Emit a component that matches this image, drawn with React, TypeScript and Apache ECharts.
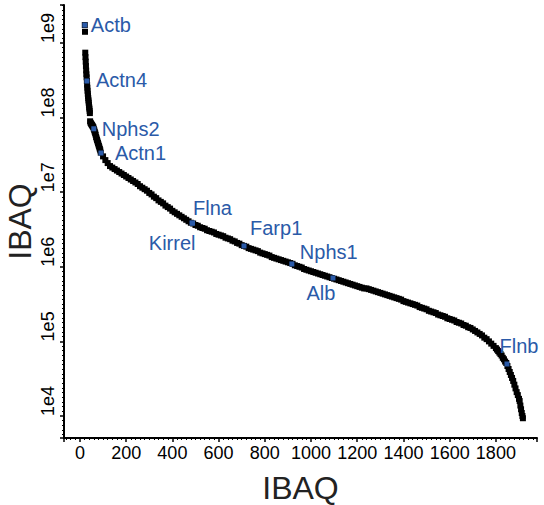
import React, { useEffect, useRef } from "react";
import * as echarts from "echarts";

// ---- Data (log10 of IBAQ) ----
const headRanks = [
  21, 22, 23, 24, 25, 26, 27, 28, 29, 30, 31, 32, 33, 34, 35, 36, 37, 38, 39, 40, 41, 42, 43,
  44, 46, 48, 50, 52, 54, 56, 58, 60, 62, 64, 66, 68, 70, 72, 74, 76, 78, 80, 82, 84, 86, 88, 90,
];
const headLog = [
  9.24, 9.15, 8.87, 8.81, 8.75, 8.69, 8.63, 8.58, 8.54, 8.49, 8.44, 8.4, 8.36, 8.32, 8.29, 8.26, 8.23, 8.2, 8.17, 8.14, 8.12, 8.09, 8.06,
  7.95, 7.93, 7.92, 7.91, 7.9, 7.89, 7.88, 7.87, 7.85, 7.83, 7.81, 7.79, 7.77, 7.74, 7.72, 7.7, 7.68, 7.66, 7.64, 7.62, 7.6, 7.58, 7.56, 7.53,
];

// ranks 100, 110, ..., 1800
const BODY_START = 100;
const BODY_STEP = 10;
const bodyLog = [
  7.48, 7.43, 7.39, 7.35, 7.33, 7.31, 7.29, 7.27, 7.25, 7.23,
  7.21, 7.19, 7.17, 7.15, 7.13, 7.11, 7.08, 7.06, 7.04, 7.02,
  6.99, 6.97, 6.94, 6.92, 6.89, 6.87, 6.85, 6.82, 6.8, 6.78,
  6.75, 6.73, 6.71, 6.69, 6.67, 6.65, 6.63, 6.61, 6.59, 6.58,
  6.56, 6.55, 6.53, 6.52, 6.51, 6.49, 6.48, 6.47, 6.46, 6.44,
  6.43, 6.42, 6.41, 6.39, 6.38, 6.37, 6.35, 6.34, 6.32, 6.31,
  6.29, 6.28, 6.27, 6.25, 6.24, 6.23, 6.22, 6.21, 6.19, 6.18,
  6.17, 6.16, 6.15, 6.13, 6.12, 6.11, 6.1, 6.09, 6.08, 6.07,
  6.06, 6.05, 6.04, 6.02, 6.01, 6.0, 5.99, 5.97, 5.96, 5.95,
  5.94, 5.93, 5.92, 5.91, 5.9, 5.89, 5.88, 5.87, 5.86, 5.85,
  5.84, 5.83, 5.82, 5.81, 5.8, 5.79, 5.78, 5.77, 5.76, 5.75,
  5.74, 5.73, 5.72, 5.71, 5.71, 5.7, 5.69, 5.68, 5.67, 5.66,
  5.65, 5.64, 5.63, 5.62, 5.61, 5.6, 5.59, 5.58, 5.57, 5.56,
  5.54, 5.53, 5.52, 5.51, 5.5, 5.49, 5.48, 5.46, 5.45, 5.44,
  5.43, 5.41, 5.4, 5.39, 5.38, 5.36, 5.35, 5.34, 5.33, 5.31,
  5.3, 5.29, 5.28, 5.26, 5.25, 5.24, 5.22, 5.21, 5.19, 5.18,
  5.16, 5.14, 5.12, 5.1, 5.08, 5.05, 5.03, 5.0, 4.97, 4.94,
  4.91,
];

const tailRanks = [
  1805, 1810, 1815, 1820, 1825, 1830, 1835, 1840, 1845, 1850, 1855, 1860, 1865, 1870, 1875,
  1880, 1885, 1890, 1895, 1900, 1903, 1906, 1909, 1912, 1915, 1917,
];
const tailLog = [
  4.89, 4.87, 4.85, 4.83, 4.81, 4.78, 4.76, 4.73, 4.71, 4.67, 4.63, 4.59, 4.55, 4.51, 4.47,
  4.42, 4.37, 4.32, 4.28, 4.23, 4.2, 4.14, 4.09, 4.04, 4.0, 3.97,
];

const proteinNames = ["Actb", "Actn4", "Nphs2", "Actn1", "Flna", "Kirrel", "Farp1", "Nphs1", "Alb", "Flnb"];
const proteinRanks = [21, 30, 60, 91, 485, 487, 710, 917, 1095, 1848];
const proteinLog = [9.24, 8.49, 7.85, 7.525, 6.587, 6.585, 6.279, 6.038, 5.85, 4.697];

const xTickLabels = ["0", "200", "400", "600", "800", "1000", "1200", "1400", "1600", "1800"];
const yTickLabels = ["1e4", "1e5", "1e6", "1e7", "1e8", "1e9"];

// ---- Styling (kept apart from data) ----
const FONT = "'Liberation Sans', Arial, Helvetica, sans-serif";
const BLUE = "#2a5aa8";
const labelPlacement: { align: string; offset: [number, number] }[] = [
  { align: "left", offset: [6, 0] },
  { align: "left", offset: [9, -1] },
  { align: "left", offset: [8, 0] },
  { align: "left", offset: [14, 0] },
  { align: "left", offset: [1, -15] },
  { align: "right", offset: [3, 20] },
  { align: "left", offset: [6, -18] },
  { align: "left", offset: [8, -12] },
  { align: "center", offset: [-12, 15] },
  { align: "center", offset: [12, -18] },
];

function buildCurve(): [number, number][] {
  const pts: [number, number][] = [];
  headRanks.forEach((r, i) => pts.push([r, headLog[i]]));
  bodyLog.forEach((v, i) => pts.push([BODY_START + i * BODY_STEP, v]));
  tailRanks.forEach((r, i) => pts.push([r, tailLog[i]]));
  return pts;
}

export default function App() {
  const ref = useRef<HTMLDivElement>(null);
  useEffect(() => {
    if (!ref.current) return;
    const chart = echarts.init(ref.current, null, { renderer: "svg" });
    const curve = buildCurve();
    const proteins = proteinNames.map((n, i) => ({
      name: n,
      value: [proteinRanks[i], proteinLog[i]],
      label: {
        show: true,
        position: "inside",
        align: labelPlacement[i].align,
        verticalAlign: "middle",
        offset: labelPlacement[i].offset,
      },
    }));
    chart.setOption({
      animation: false,
      backgroundColor: "#fff",
      grid: { left: 64, right: 7, top: 5, bottom: 67, containLabel: false, outerBoundsMode: "none" },
      xAxis: {
        type: "value",
        min: -69,
        max: 1978,
        splitNumber: 10,
        axisLine: { show: true, onZero: false, lineStyle: { color: "#000", width: 2 } },
        axisTick: { show: true, length: 4, lineStyle: { color: "#000", width: 1.5 } },
        minorTick: { show: true, splitNumber: 10, length: 2, lineStyle: { color: "#000", width: 1 } },
        splitLine: { show: false },
        axisLabel: {
          fontSize: 18,
          color: "#000",
          margin: 6,
          fontFamily: FONT,
          formatter: (v: number) => {
            const idx = Math.round(v / 200);
            if (Math.abs(v - idx * 200) > 1e-6) return "";
            return xTickLabels[idx] ?? "";
          },
        },
        name: "IBAQ",
        nameLocation: "middle",
        nameGap: 34,
        nameMoveOverlap: false,
        nameTextStyle: { fontSize: 32, color: "#222", fontFamily: FONT },
      },
      yAxis: {
        type: "value",
        min: 3.705,
        max: 9.509,
        splitNumber: 5,
        axisLine: { show: true, onZero: false, lineStyle: { color: "#000", width: 2 } },
        axisTick: { show: true, length: 4, lineStyle: { color: "#000", width: 1.5 } },
        minorTick: { show: true, splitNumber: 16, length: 2, lineStyle: { color: "#000", width: 1 } },
        splitLine: { show: false },
        axisLabel: {
          fontSize: 18,
          color: "#000",
          margin: 7,
          rotate: 90,
          align: "left",
          verticalAlign: "bottom",
          fontFamily: FONT,
          formatter: (v: number) => {
            const r = Math.round(v);
            if (Math.abs(v - r) > 1e-6) return "";
            return yTickLabels[r - 4] ?? "";
          },
        },
        name: "IBAQ",
        nameLocation: "middle",
        nameGap: 28,
        nameRotate: 90,
        nameMoveOverlap: false,
        nameTextStyle: { fontSize: 32, color: "#222", fontFamily: FONT },
      },
      series: [
        {
          type: "scatter",
          data: curve,
          symbol: "rect",
          symbolSize: 6,
          itemStyle: { color: "#000", opacity: 1 },
          silent: true,
        },
        {
          type: "scatter",
          data: proteins,
          symbol: "rect",
          symbolSize: 5,
          itemStyle: { color: BLUE, opacity: 1 },
          label: {
            show: true,
            formatter: "{b}",
            color: BLUE,
            opacity: 1,
            fontSize: 20,
            fontFamily: FONT,
          },
          z: 5,
        },
      ],
    });
    return () => chart.dispose();
  }, []);
  return (
    <div
      ref={ref}
      style={{ position: "absolute", left: 0, top: 0, width: 544, height: 505, background: "#fff" }}
    />
  );
}
